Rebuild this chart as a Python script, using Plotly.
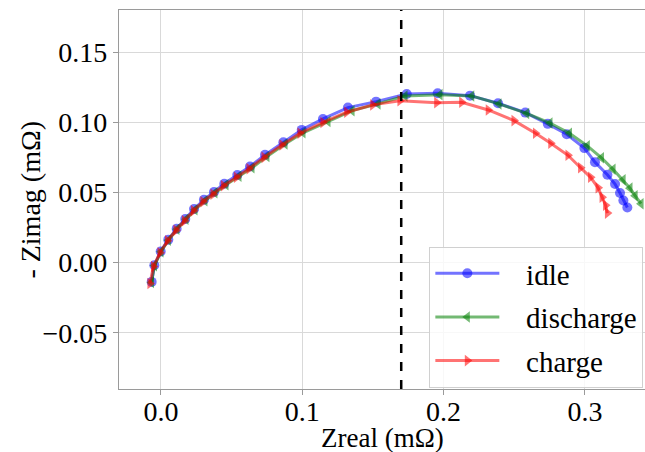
import plotly.graph_objects as go

# ---- data ----
idle_x = [-0.0066, -0.0047, -0.0002, 0.0052, 0.0111, 0.0172, 0.0234, 0.0304, 0.0375, 0.0448,
          0.0540, 0.0630, 0.0736, 0.0866, 0.0996, 0.1146, 0.1323, 0.1522, 0.1739, 0.1958,
          0.2187, 0.2385, 0.2578, 0.2737, 0.2871, 0.2996, 0.3071, 0.3159, 0.3213, 0.3248,
          0.3272, 0.3300]
idle_y = [-0.0137, -0.0019, 0.0080, 0.0164, 0.0242, 0.0311, 0.0382, 0.0448, 0.0503, 0.0562,
          0.0624, 0.0685, 0.0768, 0.0858, 0.0946, 0.1024, 0.1105, 0.1147, 0.1202, 0.1207,
          0.1190, 0.1136, 0.1069, 0.0989, 0.0915, 0.0816, 0.0716, 0.0626, 0.0560, 0.0496,
          0.0443, 0.0393]

discharge_x = [-0.0067, -0.0046, 0.0000, 0.0053, 0.0113, 0.0177, 0.0241, 0.0311, 0.0382, 0.0460,
               0.0552, 0.0644, 0.0750, 0.0878, 0.1005, 0.1182, 0.1352, 0.1536, 0.1727, 0.1975,
               0.2199, 0.2392, 0.2588, 0.2753, 0.2891, 0.3017, 0.3117, 0.3199, 0.3270, 0.3319,
               0.3355, 0.3397]
discharge_y = [-0.0142, -0.0021, 0.0078, 0.0160, 0.0238, 0.0309, 0.0377, 0.0441, 0.0498, 0.0555,
               0.0615, 0.0676, 0.0757, 0.0846, 0.0925, 0.1005, 0.1083, 0.1131, 0.1188, 0.1197,
               0.1188, 0.1131, 0.1063, 0.0994, 0.0922, 0.0832, 0.0747, 0.0665, 0.0590, 0.0531,
               0.0477, 0.0420]

charge_x = [-0.0078, -0.0053, -0.0007, 0.0046, 0.0106, 0.0166, 0.0230, 0.0297, 0.0368, 0.0442,
            0.0534, 0.0623, 0.0729, 0.0856, 0.0984, 0.1146, 0.1314, 0.1498, 0.1691, 0.1951,
            0.2128, 0.2316, 0.2498, 0.2650, 0.2758, 0.2880, 0.2969, 0.3040, 0.3093, 0.3121,
            0.3146, 0.3159]
charge_y = [-0.0149, -0.0028, 0.0071, 0.0156, 0.0231, 0.0299, 0.0370, 0.0434, 0.0487, 0.0548,
            0.0608, 0.0669, 0.0750, 0.0839, 0.0922, 0.0999, 0.1072, 0.1124, 0.1154, 0.1140,
            0.1143, 0.1088, 0.1012, 0.0922, 0.0851, 0.0765, 0.0676, 0.0608, 0.0533, 0.0466,
            0.0409, 0.0353]

vline_x = 0.17
x_ticks = [0.0, 0.1, 0.2, 0.3]
y_ticks = [-0.05, 0.0, 0.05, 0.10, 0.15]
x_title = "Zreal (mΩ)"
y_title = "- Zimag (mΩ)"

FONT = "Liberation Serif, Times New Roman, serif"
PAD = "\u00a0\u00a0\u00a0"

fig = go.Figure()
series = [
    ("idle", idle_x, idle_y, "rgba(0,0,255,0.55)", "circle"),
    ("discharge", discharge_x, discharge_y, "rgba(0,128,0,0.55)", "triangle-left"),
    ("charge", charge_x, charge_y, "rgba(255,0,0,0.55)", "triangle-right"),
]
for name, xs, ys, col, sym in series:
    fig.add_trace(go.Scatter(
        x=xs, y=ys, name=PAD + name, legendgroup=name, mode="lines+markers",
        line=dict(color=col, width=3),
        marker=dict(color=col, symbol=sym, size=10, line=dict(width=0)),
    ))

fig.add_vline(x=vline_x, line=dict(color="black", width=2.5, dash="dash"))

axis_common = dict(
    showgrid=True, gridcolor="#d9d9d9", gridwidth=1, automargin=False,
    zeroline=False, showline=True, linecolor="#9a9a9a", linewidth=1.2, mirror=True,
    ticks="outside", ticklen=5, tickcolor="#9a9a9a",
    tickfont=dict(family=FONT, size=28, color="black"),
)
fig.update_layout(
    width=645, height=452,
    margin=dict(l=119, r=0, t=10, b=63),
    paper_bgcolor="white", plot_bgcolor="white",
    font=dict(family=FONT, size=28, color="black"),
    xaxis=dict(range=[-0.0297, 0.3425], tickvals=x_ticks, tickformat=".1f",
               ticklabelstandoff=-8, **axis_common),
    yaxis=dict(range=[-0.09, 0.18], tickvals=y_ticks, tickformat=".2f",
               **axis_common),
    legend=dict(x=0.59, y=0.003, xanchor="left", yanchor="bottom",
                bgcolor="rgba(255,255,255,0.8)", bordercolor="#d0d0d0", borderwidth=1,
                font=dict(family=FONT, size=29, color="black"),
                itemwidth=64, tracegroupgap=3),
    showlegend=True,
    annotations=[
        dict(text=x_title, xref="paper", yref="paper", x=0.5, y=-0.128,
             xanchor="center", yanchor="middle", showarrow=False,
             font=dict(family=FONT, size=27, color="black")),
        dict(text=y_title, xref="paper", yref="paper", x=-0.169, y=0.5,
             xanchor="center", yanchor="middle", textangle=-90, showarrow=False,
             font=dict(family=FONT, size=28, color="black")),
    ],
)

fig.write_html("out.html")
